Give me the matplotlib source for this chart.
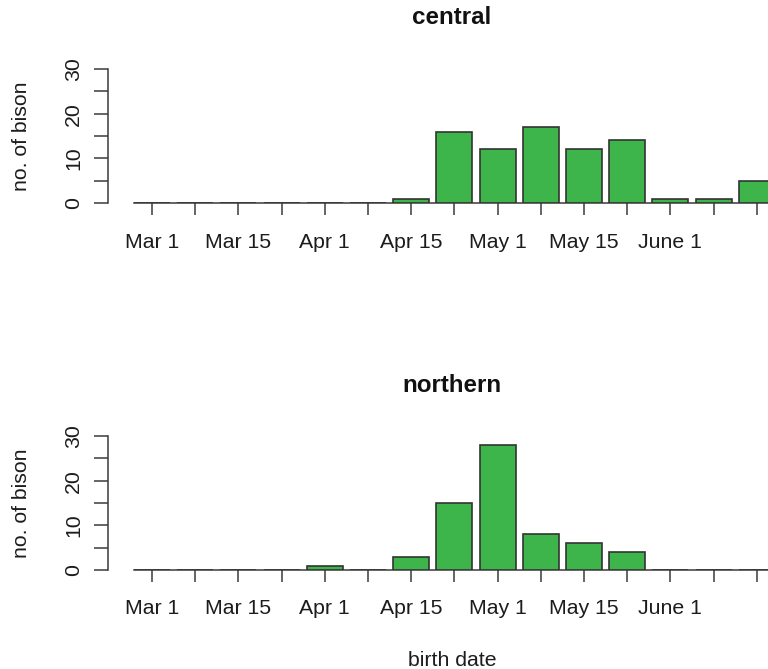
import matplotlib
matplotlib.use("Agg")
import matplotlib.pyplot as plt
import numpy as np

# weekly bins, Mar 1 onwards (image is cropped after the 15th bin)
tick_labels = ["Mar 1", "", "Mar 15", "", "Apr 1", "", "Apr 15", "",
               "May 1", "", "May 15", "", "June 1", "", ""]
central = [0, 0, 0, 0, 0, 0, 1, 16, 12, 17, 12, 14, 1, 1, 5]
northern = [0, 0, 0, 0, 1, 0, 3, 15, 28, 8, 6, 4, 0, 0, 0]
panels = [("central", central), ("northern", northern)]

W, H = 768, 669
GREEN = "#3db54a"
EDGE = "#333333"
AXC = "#3a3a3a"
TXT = "#1c1c1c"
FS = 15.3

plt.rcParams["font.family"] = ["Liberation Sans", "DejaVu Sans"]

fig = plt.figure(figsize=(W / 100, H / 100), dpi=100)

# pixel layout of each panel: (y of 30, y of 0, title y, tick label y)
layout = [(69, 203, 18, 242), (436, 570, 386, 608)]
x_left_px = 108
x0_px, step_px = 152, 43.2
xlim = ((x_left_px - x0_px) / step_px, (W - x0_px) / step_px)
bar_w = 1 / 1.2

for (title, vals), (ytop, ybot, ty, ly) in zip(panels, layout):
    ax = fig.add_axes([x_left_px / W, 1 - ybot / H, 1 - x_left_px / W, (ybot - ytop) / H])
    pos = np.arange(len(vals))
    ax.bar(pos, vals, width=bar_w, color=GREEN, edgecolor=EDGE, linewidth=1.2, zorder=3)
    ax.set_xlim(*xlim)
    ax.set_ylim(0, 30)
    for s in ["top", "right"]:
        ax.spines[s].set_visible(False)
    ax.spines["left"].set_bounds(0, 30)
    ax.spines["bottom"].set_bounds(-bar_w / 2, xlim[1])
    for s in ["left", "bottom"]:
        ax.spines[s].set_color(AXC)
        ax.spines[s].set_linewidth(1.1)
    ax.set_yticks(np.arange(0, 31, 5))
    ax.set_yticklabels([str(v) if v % 10 == 0 else "" for v in range(0, 31, 5)],
                       rotation=90, va="center")
    ax.set_xticks(pos)
    ax.set_xticklabels([])
    ax.tick_params(axis="y", length=10, width=1.1, color=AXC, labelsize=FS, pad=8, labelcolor=TXT)
    ax.tick_params(axis="x", length=8.6, width=1.1, color=AXC)
    for p, lab in zip(pos, tick_labels):
        if lab:
            fig.text((x0_px + p * step_px) / W, 1 - ly / H, lab, ha="center", va="center",
                     fontsize=FS, color=TXT)
    fig.text(22 / W, 1 - (ytop + ybot) / 2 / H, "no. of bison", rotation=90,
             ha="center", va="center", fontsize=FS, color=TXT)
    fig.text(452 / W, 1 - ty / H, title, ha="center", va="center",
             fontsize=17.4, fontweight="bold", color="#111111")

fig.text(452 / W, 1 - 660 / H, "birth date", ha="center", va="center",
         fontsize=FS, color=TXT)

fig.savefig("out.png", dpi=100)
